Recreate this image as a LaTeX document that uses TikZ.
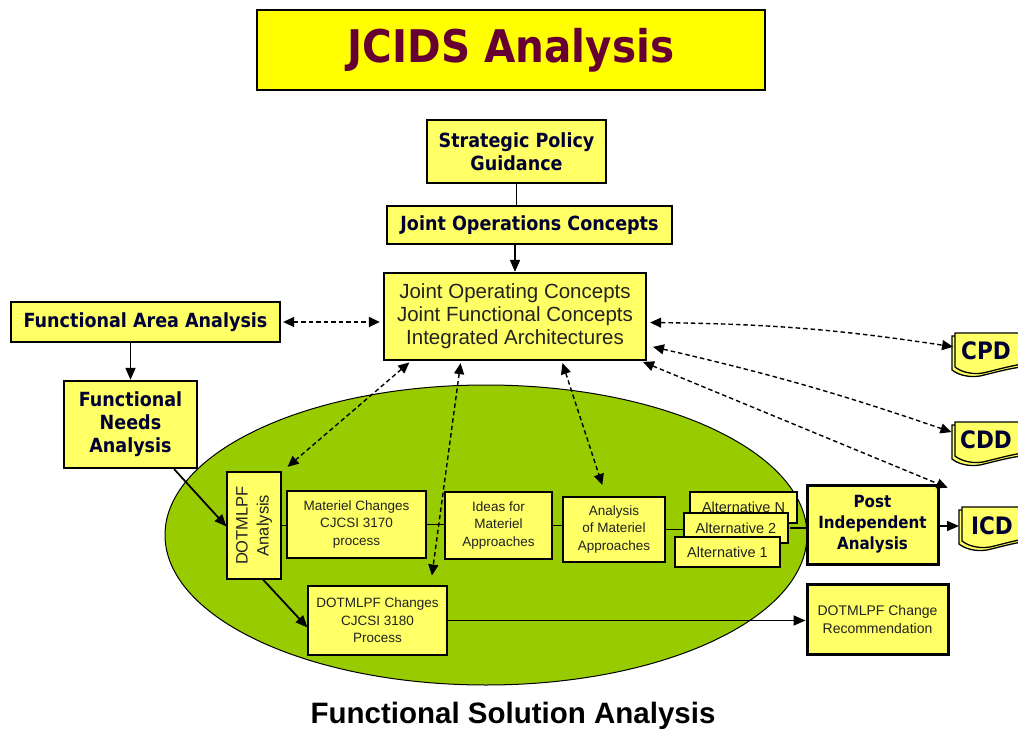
\documentclass[tikz,border=0pt]{standalone}
\usepackage{fontspec}
\setmainfont{Liberation Sans}
\newfontfamily\tahfont[FakeStretch=0.9]{DejaVu Sans}
\usetikzlibrary{arrows.meta,calc}
\definecolor{boxyellow}{HTML}{FFFF66}
\definecolor{titleyellow}{HTML}{FFFF00}
\definecolor{titlemaroon}{HTML}{660033}
\definecolor{navy}{HTML}{000033}
\definecolor{textgray}{HTML}{222222}
\definecolor{fsagreen}{HTML}{99CC00}
\begin{document}
\begin{tikzpicture}[x=1pt,y=-1pt,
  base/.style={draw=black, fill=boxyellow, align=center, inner sep=0pt},
  bigbox/.style={base, line width=2.3pt, font=\tahfont\bfseries\fontsize{19.5}{23}\selectfont, text=navy},
  regbox/.style={base, line width=2.3pt, font=\fontsize{20.5}{23}\selectfont, text=textgray},
  smallbox/.style={base, line width=1.1pt, font=\fontsize{13.5}{17.5}\selectfont, text=textgray},
  docbox/.style={inner sep=0pt, font=\tahfont\bfseries\fontsize{24}{30}\selectfont, text=navy},
  docline/.style={draw=black, line width=1.3pt, fill=boxyellow},
  link/.style={line width=1.8pt},
  arr/.style={link, -{Triangle[length=12pt,width=10pt]}},
  dlink/.style={line width=1.4pt, dash pattern=on 4.5pt off 3pt,
     {Triangle[length=11pt,width=10pt]}-{Triangle[length=11pt,width=10pt]}},
]
\useasboundingbox (0,0) rectangle (1018,733);
\fill[white] (0,0) rectangle (1018,733);

% title
\node[base, fill=titleyellow, line width=2.5pt, minimum width=508, minimum height=80,
      font=\tahfont\bfseries\fontsize{45}{54}\selectfont, text=titlemaroon] (title) at (511,50) {JCIDS Analysis};

% ellipse
\draw[fill=fsagreen, line width=1pt] (486,535) ellipse [x radius=321, y radius=150];

% upper boxes
\node[bigbox, minimum width=179, minimum height=63] (spg) at (516.5,151.5) {Strategic Policy\\Guidance};
\node[bigbox, minimum width=285, minimum height=38] (joc) at (529.5,225) {Joint Operations Concepts};
\node[regbox, minimum width=262, minimum height=87] (jopc) at (515,316.5) {Joint Operating Concepts\\Joint Functional Concepts\\Integrated Architectures};
\node[bigbox, minimum width=269, minimum height=40] (faa) at (145.5,322) {Functional Area Analysis};
\node[bigbox, minimum width=133, minimum height=87] (fna) at (130.5,424.5) {Functional\\Needs\\Analysis};

% inside ellipse
\node[smallbox, minimum width=54, minimum height=107] (dota) at (254,525.5) {};
\node[rotate=90, align=center, font=\fontsize{16.5}{21}\selectfont, text=textgray] (dotatext) at (dota) {DOTMLPF\\Analysis};
\node[smallbox, minimum width=139, minimum height=67] (mc) at (356.5,524.5) {Materiel Changes\\CJCSI 3170\\process};
\node[smallbox, minimum width=107, minimum height=67] (ideas) at (498.5,525.5) {Ideas for\\Materiel\\Approaches};
\node[smallbox, minimum width=102, minimum height=65] (anal) at (614,529.5) {Analysis\\of Materiel\\Approaches};
\node[smallbox, minimum width=139, minimum height=69] (dotc) at (377.5,620.5) {DOTMLPF Changes\\CJCSI 3180\\Process};

% connectors under alternatives
\draw[link] (anal.east) -- (anal.east -| 700,0);
\draw[link] (790,528) -- (807,528);

\node[smallbox, font=\fontsize{14.5}{17}\selectfont, minimum width=107, minimum height=31] (altn) at (743.5,507.5) {Alternative N};
\node[smallbox, font=\fontsize{14.5}{17}\selectfont, minimum width=104, minimum height=30] (alt2) at (736,528) {Alternative 2};
\node[smallbox, font=\fontsize{14.5}{17}\selectfont, minimum width=105, minimum height=30] (alt1) at (727.5,552) {Alternative 1};

\node[bigbox, line width=3pt, font=\tahfont\bfseries\fontsize{16.8}{21}\selectfont, minimum width=131, minimum height=79] (post) at (872.5,524.5) {Post\\Independent\\Analysis};
\node[smallbox, line width=3pt, font=\fontsize{14}{18}\selectfont, minimum width=141, minimum height=70] (rec) at (877.5,619) {DOTMLPF Change\\Recommendation};

% document shapes
\foreach \dx/\dy in {955/333, 955/422, 962/507}{
  \begin{scope}[shift={(\dx,\dy)}]
    \draw[docline] (-3,3) -- (80,3) -- (80,33) .. controls (62,33) and (42,39) .. (25,43)
       .. controls (12,45) and (2,41) .. (-3,37) -- cycle;
    \draw[docline] (0,0) -- (80,0) -- (80,30) .. controls (65,30) and (45,36) .. (28,40)
       .. controls (15,42) and (5,38) .. (0,34) -- cycle;
  \end{scope}
}
\node[docbox] (cpd) at (986,351) {CPD};
\node[docbox] (cdd) at (986,440) {CDD};
\node[docbox] (icd) at (992,526) {ICD};

% solid connectors
\draw[link] (spg.south) -- (spg.south |- joc.north);
\draw[arr] (jopc.north |- joc.south) -- (jopc.north);
\draw[arr] (fna.north |- faa.south) -- (fna.north);
\draw[arr] ($(fna.south east)+(-24,0)$) -- ($(dota.west)+(0,1)$);
\draw[link] (dota.east) -- (dota.east -| mc.west);
\draw[link] (mc.east) -- (mc.east -| ideas.west);
\draw[link] (ideas.east) -- (ideas.east -| anal.west);
\draw[arr] ($(dota.south)+(9,0)$) -- ($(dotc.west)+(0,7)$);
\draw[arr] (dotc.east) -- (dotc.east -| rec.west);
\draw[arr] (post.east |- icd) -- (959,526);

% dashed connectors
\draw[dlink, shorten <=2pt, shorten >=3pt] (faa.east) -- (faa.east -| jopc.west);
\draw[dlink, shorten <=3pt, shorten >=8pt] ($(jopc.east)+(0,6)$) to[bend left=4] ($(cpd.west)+(0,-3)$);
\draw[dlink, shorten <=6pt, shorten >=9pt] ($(jopc.east)+(0,29)$) to[bend left=3] ($(cdd.west)+(0,-5)$);
\draw[dlink, shorten <=2pt, shorten >=2pt] ($(jopc.south east)+(-6,0)$) -- ($(post.north east)+(10,5)$);
\draw[dlink, shorten <=2pt, shorten >=4pt] ($(jopc.south west)+(28,0)$) -- ($(dota.north east)+(3,-2)$);
\draw[dlink, shorten <=2pt, shorten >=10pt] ($(jopc.south west)+(78,0)$) -- ($(dotc.north east)+(-17,0)$);
\draw[dlink, shorten <=2pt, shorten >=12pt] ($(jopc.south west)+(179,0)$) -- ($(anal.north)+(-8,0)$);

% caption
\node[font=\bfseries\fontsize{29.5}{34}\selectfont, text=black] (fsa) at (513,716) {Functional Solution Analysis};
\end{tikzpicture}
\end{document}
